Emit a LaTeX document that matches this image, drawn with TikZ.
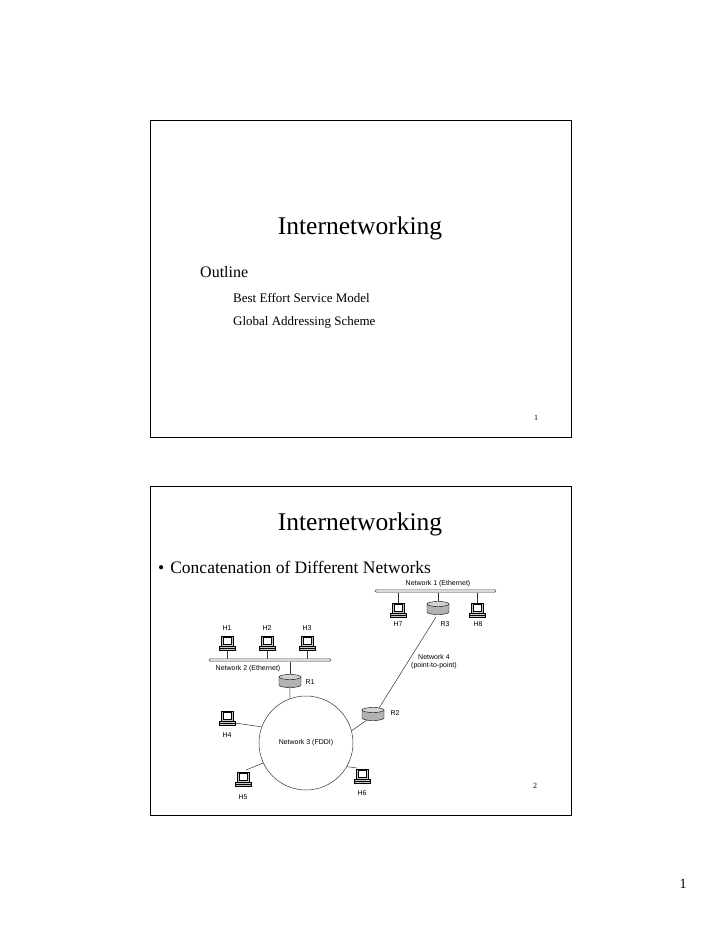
\documentclass[tikz,border=0pt]{standalone}
\usepackage{fontspec}
\setmainfont{Liberation Serif}
\newfontfamily\lsans{Liberation Sans}
\begin{document}
\begin{tikzpicture}[x=1pt,y=-1pt,
  lbl/.style={font=\lsans\fontsize{7}{8}\selectfont,inner sep=0pt,align=center},
  bar/.style={draw=gray!70!black,fill=gray!30,rounded corners=1.5pt},
  wire/.style={draw=black!80,line width=0.5pt}]
\useasboundingbox (0,0) rectangle (720,932);
% slide frames
\draw[line width=0.8pt] (150,120) rectangle (571,437);
\draw[line width=0.8pt] (150,486) rectangle (571,815);
% slide 1
\node (t1) at (360,228) {\fontsize{25.5}{28}\selectfont Internetworking};
\node[anchor=west,inner sep=0pt] (o) at (200,272) {\fontsize{16}{18}\selectfont Outline};
\node[anchor=west,inner sep=0pt] (o1) at (233,298) {\fontsize{13}{15}\selectfont Best Effort Service Model};
\node[anchor=west,inner sep=0pt] (o2) at (233,322) {\fontsize{13}{15}\selectfont Global Addressing Scheme};
\node (n1) at (536,418) {\fontsize{8}{9}\selectfont 1};
% slide 2
\node (t2) at (360,524) {\fontsize{25.5}{28}\selectfont Internetworking};
\node[anchor=west,inner sep=0pt] (b) at (158,567) {\fontsize{17.5}{20}\selectfont\textbullet\hspace{6pt}Concatenation of Different Networks};
\node (n2) at (535,786) {\fontsize{8}{9}\selectfont 2};
\node (pg) at (683,884) {\fontsize{14}{16}\selectfont 1};
% computer & router commands
\newcommand\mycomp[2]{%
  \begin{scope}[shift={(#1)}]
  \fill[gray!45,draw=black,line width=0.4pt] (-6,-7) rectangle (6,3);
  \fill[white,draw=black,line width=0.3pt] (-4,-5.5) rectangle (4,1.5);
  \fill[gray!45,draw=black,line width=0.4pt] (-8,3) rectangle (8,7);
  \draw[line width=0.3pt] (-8,5) -- (8,5);
  \coordinate (#2) at (0,0);
  \end{scope}}
\newcommand\myrouter[2]{%
  \begin{scope}[shift={(#1)}]
  \fill[gray!60,draw=black,line width=0.4pt] (-11,-3) -- (-11,5) arc[start angle=180,end angle=360,x radius=11,y radius=-2.5] -- (11,-3);
  \fill[gray!35,draw=black,line width=0.4pt] (0,-3) ellipse[x radius=11,y radius=2.5];
  \coordinate (#2) at (0,0);
  \end{scope}}
% network 1
\draw[bar] (375,589.5) rectangle (496,592.5);
\node[lbl,anchor=south] (nw1) at (438,587) {Network 1 (Ethernet)};
\draw[wire] (398,592.5) -- (398,603);
\draw[wire] (438,592.5) -- (438,601);
\draw[wire] (477,592.5) -- (477,603);
\mycomp{398,610}{h7}
\myrouter{438,607}{r3}
\mycomp{477,610}{h8}
\node[lbl] (lh7) at (398,624) {H7};
\node[lbl] (lr3) at (445,624) {R3};
\node[lbl] (lh8) at (478,624) {H8};
% network 2
\node[lbl] (lh1) at (227,628) {H1};
\node[lbl] (lh2) at (267,628) {H2};
\node[lbl] (lh3) at (307,628) {H3};
\mycomp{227,643}{h1}
\mycomp{267,643}{h2}
\mycomp{307,643}{h3}
\draw[wire] (227,650) -- (227,658.5);
\draw[wire] (267,650) -- (267,658.5);
\draw[wire] (307,650) -- (307,658.5);
\draw[bar] (209,658.5) rectangle (331,661.5);
\node[lbl] (nw2) at (248,669) {Network 2 (Ethernet)};
\draw[wire] (290,661.5) -- (290,674);
\myrouter{290,680}{r1}
\node[lbl] (lr1) at (310,682) {R1};
% network 3
\node[circle,draw=black!80,line width=0.5pt,minimum size=94pt,inner sep=0pt] (ring) at (306,743) {};
\node[lbl] (nw3) at (306,743) {Network 3 (FDDI)};
\draw[wire] (290,686) -- (ring.{180-70});
\mycomp{227,718}{h4}
\node[lbl] (lh4) at (227,735) {H4};
\draw[wire] (235,723) -- (ring.{180-20});
\mycomp{243,779}{h5}
\node[lbl] (lh5) at (243,797) {H5};
\draw[wire] (246,770) -- (ring.{180+25});
\mycomp{362,776}{h6}
\node[lbl] (lh6) at (362,793) {H6};
\draw[wire] (357,768) -- (ring.{-30});
\myrouter{373,713}{r2}
\node[lbl] (lr2) at (395,713) {R2};
\draw[wire] (367,720) -- (ring.{15});
\draw[wire] (436,617) -- (379,708);
\node[lbl] (nw4) at (434,662) {Network 4\\(point-to-point)};
\end{tikzpicture}
\end{document}
